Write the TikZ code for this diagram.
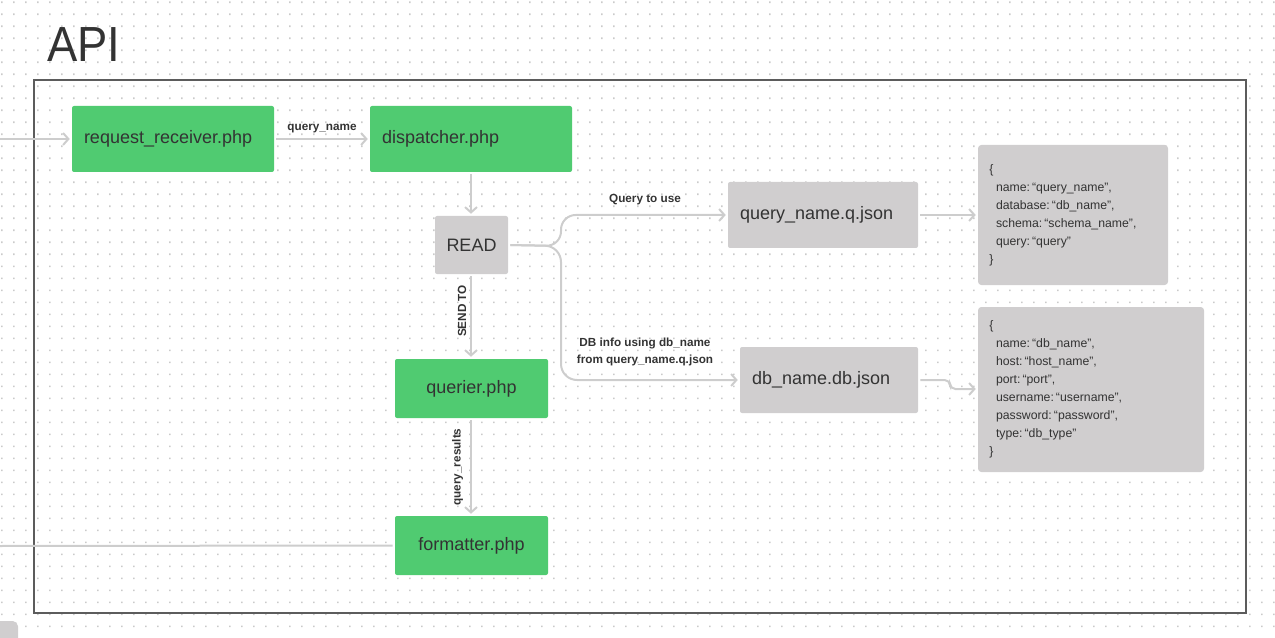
\documentclass[tikz,border=0pt]{standalone}
\usepackage{fontspec}
\setmainfont{Liberation Sans}
\usetikzlibrary{arrows.meta}
\definecolor{grn}{HTML}{50CB71}
\definecolor{gbox}{HTML}{D0CECF}
\definecolor{lnk}{HTML}{CDCDCD}
\definecolor{txt}{HTML}{333333}
\definecolor{frm}{HTML}{5C5C5C}
\definecolor{dotc}{HTML}{CACACA}
\newcommand{\ind}{\hspace*{5pt}}
\begin{document}
\begin{tikzpicture}[x=0.75pt,y=-0.75pt,
  box/.style={rectangle, rounded corners=1.5pt, text=txt, inner ysep=0pt,
    font={\fontsize{13.5}{16}\selectfont}},
  greenbox/.style={box, fill=grn},
  graybox/.style={box, fill=gbox},
  lbox/.style={align=left, inner xsep=9pt},
  jbox/.style={rectangle, rounded corners=2.5pt, fill=gbox, text=txt, align=left,
    inner xsep=8.5pt, inner ysep=0pt, font={\fontsize{9.2}{13.5}\selectfont}},
  link/.style={draw=lnk, line width=1.5pt, shorten >=1.5pt, shorten <=1.5pt,
    -{Straight Barb[length=4pt,width=9pt,line width=1.5pt]}},
  plain/.style={draw=lnk, line width=1.5pt, shorten <=1.5pt},
  lbl/.style={text=txt, inner sep=0pt, font={\fontsize{8.8}{10}\selectfont\bfseries}, align=center}
]
\useasboundingbox (0,0) rectangle (1275,638);
% dot grid
\foreach \y in {1.5,13.5,...,637} {
  \fill[dotc] \foreach \x in {1,13,...,1273} {(\x,\y) rectangle ++(1.6,1.6)};
}
% bottom-left gray tab
\fill[gbox, rounded corners=4pt] (-10,621) rectangle (18,650);
% title
\node[anchor=base west, text=txt, inner sep=0pt, font={\fontsize{37}{40}\selectfont}] (title) at (47,62) {\scalebox{0.92}[1]{API}};
% frame
\draw[frm, line width=1.9pt] (34,80) rectangle (1246,613);

% nodes
\node[greenbox, lbox, text width=133.5pt, minimum height=49.5pt] (rr) at (173,139) {request\_receiver.php};
\node[greenbox, lbox, text width=133.5pt, minimum height=49.5pt] (disp) at (471,139) {dispatcher.php};
\node[graybox, minimum width=54.75pt, minimum height=43.5pt] (read) at (471.5,245) {READ};
\node[graybox, lbox, text width=124.5pt, minimum height=49.5pt] (qj) at (823,215) {query\_name.q.json};
\node[graybox, lbox, text width=115.5pt, minimum height=49.5pt] (dbj) at (829,380) {db\_name.db.json};
\node[greenbox, minimum width=114.75pt, minimum height=44.25pt] (qr) at (471.5,388.5) {querier.php};
\node[greenbox, minimum width=114.75pt, minimum height=44.25pt] (fmt) at (471.5,545.5) {formatter.php};
\node[jbox, text width=125.5pt, minimum height=105pt] (j1) at (1073,215) {\{\\ \ind name:\,“query\_name”,\\ \ind database:\,“db\_name”,\\ \ind schema:\,“schema\_name”,\\ \ind query:\,“query”\\ \}};
\node[jbox, text width=152.5pt, minimum height=123.75pt] (j2) at (1091,389.5) {\{\\ \ind name:\,“db\_name”,\\ \ind host:\,“host\_name”,\\ \ind port:\,“port”,\\ \ind username:\,“username”,\\ \ind password:\,“password”,\\ \ind type:\,“db\_type”\\ \}};

% free ends
\coordinate (in0) at (0,139);
\coordinate (out0) at (0,546);
\coordinate (br) at (561,246);

% connectors
\draw[link, shorten <=0pt] (in0) -- (rr.west);
\draw[link] (rr.east) -- (disp.west);
\draw[link] (disp.south) -- (read.north -| disp.south);
\draw[link, rounded corners=11pt] (read.east) -- (br) -- (561,215) -- (qj.west);
\draw[link, rounded corners=12pt] (read.east) -- (br) -- (561,380) -- (dbj.west);
\draw[link] (read.south -| disp.south) -- (qr.north -| disp.south);
\draw[link] (qr.south -| disp.south) -- (fmt.north -| disp.south);
\draw[link] (qj.east) -- (j1.west |- qj.east);
\draw[link, rounded corners=4pt] (dbj.east) -- (950,380) -- (950,389) -- (j2.west |- 0,389);
\draw[plain] (fmt.west) -- (out0);

% labels
\node[lbl] (lqn) at (322,129) {query\_name};
\node[lbl] (lqu) at (645,200) {Query to use};
\node[lbl, font={\fontsize{8.8}{12.75}\selectfont\bfseries}] (ldb) at (645,351.5) {DB info using db\_name\\from query\_name.q.json};
\node[lbl, rotate=90] (lst) at (462,311) {SEND TO};
\node[lbl, rotate=90] (lres) at (457.5,467) {query\_results};
\end{tikzpicture}
\end{document}
